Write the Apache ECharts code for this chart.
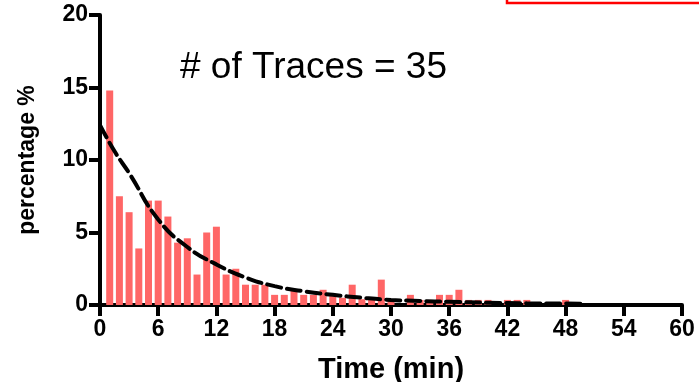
<!DOCTYPE html>
<html>
<head>
<meta charset="utf-8">
<script src="https://cdn.jsdelivr.net/npm/echarts@6/dist/echarts.min.js"></script>
<style>
html,body{margin:0;padding:0;background:#fff;}
#chart{width:699px;height:382px;}
</style>
</head>
<body>
<div id="chart"></div>
<script>
// Histogram: time bins (min) and percentage of events
const times = [1,2,3,4,5,6,7,8,9,10,11,12,13,14,15,16,17,18,19,20,21,22,23,24,25,26,27,28,29,30,31,32,33,34,35,36,37,38,39,40,41,42,43,44,45,46,47,48,49,50];
const percentages = [14.8,7.5,6.4,3.9,7.2,7.2,6.1,4.3,4.6,2.1,5.0,5.4,2.1,2.5,1.4,1.4,1.4,0.7,0.7,1.05,0.7,0.7,1.05,0.7,0.5,1.4,0.4,0.35,1.75,0.35,0,0.7,0.35,0.35,0.7,0.7,1.05,0.35,0.35,0.35,0,0.35,0.35,0.35,0,0,0,0.35,0,0];
// Fitted exponential curve
const fitTimes = [0,1.5,3,6,9,12,15,18,21,24,27,30,33,36,40,44,48,50];
const fitValues = [12.4,10.6,9.1,5.9,4.0,2.8,1.9,1.3,0.95,0.7,0.5,0.35,0.28,0.22,0.16,0.12,0.1,0.08];
const xTicks = {min:0, max:60, interval:6};
const yTicks = {min:0, max:20, interval:5};
const annotation = '# of Traces = 35';

const font = '"Liberation Sans", Arial, Helvetica, sans-serif';
const chart = echarts.init(document.getElementById('chart'), null, {renderer:'canvas'});
chart.setOption({
  animation:false,
  backgroundColor:'#fff',
  grid:{left:100, right:17, top:15, bottom:77, containLabel:false, outerBoundsMode:'none'},
  xAxis:{
    type:'value', min:xTicks.min, max:xTicks.max, interval:xTicks.interval,
    name:'Time (min)', nameLocation:'middle', nameGap:50,
    nameTextStyle:{color:'#000', fontSize:29, fontWeight:'bold', fontFamily:font},
    axisLine:{show:true, onZero:false, lineStyle:{color:'#000', width:4}},
    axisTick:{show:true, length:11, lineStyle:{color:'#000', width:4}},
    axisLabel:{color:'#000', fontSize:23, fontWeight:'bold', fontFamily:font, margin:13},
    splitLine:{show:false}
  },
  yAxis:{
    type:'value', min:yTicks.min, max:yTicks.max, interval:yTicks.interval,
    name:'percentage %', nameLocation:'middle', nameGap:61, nameRotate:90,
    nameTextStyle:{color:'#000', fontSize:23, fontWeight:'bold', fontFamily:font},
    axisLine:{show:true, onZero:false, lineStyle:{color:'#000', width:4}},
    axisTick:{show:true, length:11, lineStyle:{color:'#000', width:4}},
    axisLabel:{color:'#000', fontSize:23, fontWeight:'bold', fontFamily:font, margin:12},
    splitLine:{show:false}
  },
  series:[
    {
      type:'bar',
      data:times.map((t,i)=>[t, percentages[i]]),
      barWidth:7,
      itemStyle:{color:'#ff6666'},
      z:2
    },
    {
      type:'line',
      data:fitTimes.map((t,i)=>[t, fitValues[i]]),
      smooth:true,
      symbol:'none',
      lineStyle:{color:'#000', width:4, type:[14,6], cap:'round'},
      z:3
    }
  ],
  graphic:[
    {type:'text', left:180, top:49, style:{text:annotation, font:'37px '+font, fill:'#000'}},
    {type:'rect', shape:{x:507, y:-20, width:220, height:23}, style:{fill:'none', stroke:'#ff0000', lineWidth:2.5}}
  ]
});
</script>
</body>
</html>
